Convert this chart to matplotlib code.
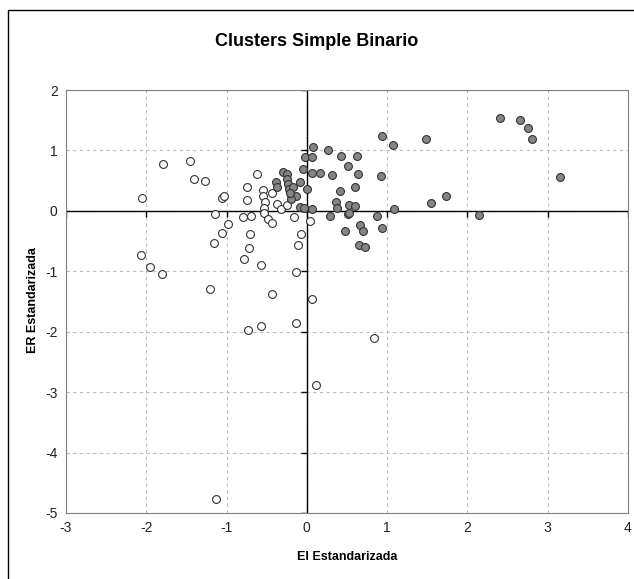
import matplotlib
matplotlib.use("Agg")
import matplotlib.pyplot as plt
from matplotlib.patches import Rectangle

plt.rcParams['font.family'] = ['Liberation Sans', 'DejaVu Sans']
plt.rcParams['axes.unicode_minus'] = False

# cluster 1 (white)
blanco_x = [-2.05, -1.79, -1.46, -1.40, -1.27, -1.06, -1.03, -0.62, -0.75, -0.75,
            -0.55, -0.55, -0.43, -0.52, -0.53, -0.37, -0.32, -0.25, -1.15, -0.98,
            -0.79, -0.70, -0.54, -0.49, -0.44, -0.16, 0.04, -1.06, -0.71, -1.16,
            -0.72, -0.07, -0.11, -2.06, -1.95, -1.81, -1.21, -0.78, -0.57, -0.13,
            -0.44, 0.06, -0.73, -0.57, -0.13, 0.84, 0.11, -1.13]
blanco_y = [0.21, 0.78, 0.82, 0.53, 0.50, 0.21, 0.25, 0.61, 0.40, 0.18,
            0.34, 0.25, 0.29, 0.14, 0.05, 0.12, 0.03, 0.09, -0.05, -0.22,
            -0.10, -0.08, -0.04, -0.13, -0.20, -0.10, -0.16, -0.37, -0.39, -0.53,
            -0.62, -0.39, -0.57, -0.73, -0.93, -1.04, -1.30, -0.80, -0.89, -1.01,
            -1.37, -1.46, -1.97, -1.91, -1.86, -2.10, -2.89, -4.77]

# cluster 2 (gray)
gris_x = [0.94, 1.49, 1.07, 0.08, 0.26, -0.02, 0.07, 0.42, 0.62, 0.51,
          -0.05, 0.07, 0.16, 0.31, 0.64, 0.92, -0.08, 0.00, 0.41, 0.60,
          0.36, 0.38, 0.52, 0.60, -0.08, -0.03, 0.06, 0.29, 0.51, 0.87,
          1.09, 1.55, 1.73, 0.48, 0.66, 0.70, 0.94, 0.65, 0.73, 2.41,
          2.66, 2.76, 2.81, 3.15, 2.15, -0.30, -0.25, -0.25, -0.39, -0.37,
          -0.23, -0.22, -0.17, -0.20, -0.14, -0.20, -0.21, 0.52]
gris_y = [1.24, 1.19, 1.09, 1.05, 1.00, 0.89, 0.89, 0.91, 0.91, 0.74,
          0.69, 0.63, 0.63, 0.59, 0.61, 0.58, 0.48, 0.36, 0.33, 0.39,
          0.15, 0.04, 0.10, 0.08, 0.07, 0.05, 0.03, -0.08, -0.05, -0.08,
          0.03, 0.13, 0.24, -0.33, -0.24, -0.33, -0.29, -0.57, -0.60, 1.53,
          1.50, 1.37, 1.19, 0.56, -0.07, 0.64, 0.61, 0.53, 0.48, 0.39,
          0.44, 0.36, 0.40, 0.26, 0.25, 0.20, 0.29, -0.03]

xticks = [-3, -2, -1, 0, 1, 2, 3, 4]
yticks = [-5, -4, -3, -2, -1, 0, 1, 2]

fig = plt.figure(figsize=(6.34, 5.79), dpi=100)
fig.patches.append(Rectangle((8 / 634, -0.01), 0.995, 1 - 10 / 579 + 0.01,
                             transform=fig.transFigure, fill=False,
                             edgecolor='black', linewidth=1.0))

ax = fig.add_axes([66 / 634, 66 / 579, 562 / 634, 423 / 579])
ax.set_xlim(-3, 4)
ax.set_ylim(-5, 2)
ax.set_xticks(xticks)
ax.set_yticks(yticks)
ax.tick_params(length=0, labelsize=10, pad=6, colors='#222222')
for s in ax.spines.values():
    s.set_color('#808080')
    s.set_linewidth(0.8)

ax.grid(True, color='#bdbdbd', linestyle=(0, (3, 3)), linewidth=0.8)
ax.set_axisbelow(True)
ax.axhline(0, color='black', linewidth=1.0, zorder=2)
ax.axvline(0, color='black', linewidth=1.0, zorder=2)
ax.plot(xticks, [0] * len(xticks), ls='none', marker=3, markersize=4,
        color='black', markeredgewidth=1.0, zorder=2)
ax.plot([0] * len(yticks), yticks, ls='none', marker=0, markersize=4,
        color='black', markeredgewidth=1.0, zorder=2)

ax.scatter(blanco_x, blanco_y, s=32, facecolor='white', edgecolor='#333333',
           linewidth=0.8, zorder=3)
ax.scatter(gris_x, gris_y, s=32, facecolor='#858585', edgecolor='#333333',
           linewidth=0.8, zorder=3)

fig.text(317 / 634, 1 - 42 / 579, 'Clusters Simple Binario', ha='center',
         va='center', fontsize=13, fontweight='bold')
fig.text(347 / 634, 1 - 557 / 579, 'EI Estandarizada', ha='center',
         va='center', fontsize=9, fontweight='bold')
fig.text(33 / 634, 1 - 300 / 579, 'ER Estandarizada', ha='center',
         va='center', fontsize=9, fontweight='bold', rotation=90)

fig.savefig('out.png', dpi=100)
